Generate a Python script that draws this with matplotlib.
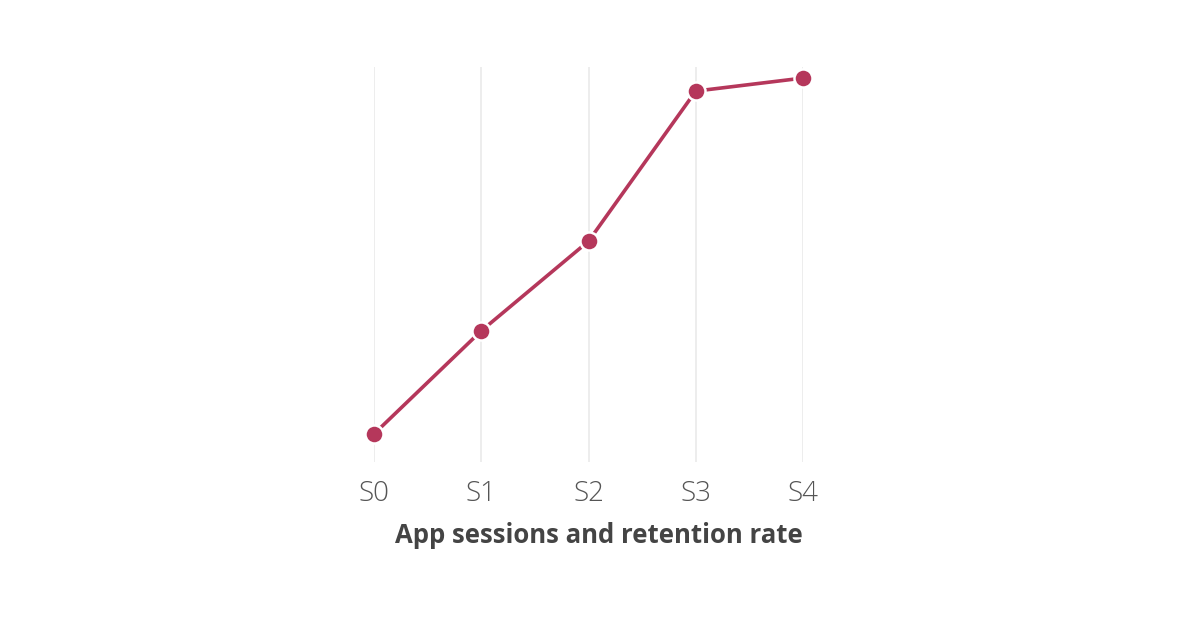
import matplotlib.pyplot as plt

sessions = ['S0', 'S1', 'S2', 'S3', 'S4']
retention = [7.1, 33.2, 55.9, 93.9, 97.2]

W, H = 1200, 628
fig = plt.figure(figsize=(W / 100, H / 100), dpi=100)

# axes box in pixels: gridlines run from x=374 to 803, y=67 to 462
left, right, top, bottom = 374, 803, 67, 462
ax = fig.add_axes([left / W, 1 - bottom / H, (right - left) / W, (bottom - top) / H])

x = list(range(len(sessions)))
ax.plot(x, retention, color='#b5375b', linewidth=2.6, marker='o', markersize=13,
        markerfacecolor='#b5375b', markeredgecolor='white', markeredgewidth=1.8,
        clip_on=False, zorder=3)

ax.set_xlim(0, 4)
ax.set_ylim(0, 100)
ax.set_xticks(x)
ax.set_xticklabels(sessions, fontsize=20, color='#555555', fontweight='light',
                   family=['Open Sans', 'DejaVu Sans'])
ax.set_yticks([])
ax.tick_params(axis='x', length=0, pad=13)
ax.grid(axis='x', color='#e8e8e8', linewidth=1.1)
for s in ax.spines.values():
    s.set_visible(False)

ax.set_xlabel('App sessions and retention rate', fontsize=18.5, fontweight='bold',
              color='#444444', family=['Open Sans', 'DejaVu Sans'])
# title sits a little right of the axes centre in the reference
ax.xaxis.set_label_coords(0.524, -0.153)

fig.savefig('out.png', dpi=100, facecolor='white')
